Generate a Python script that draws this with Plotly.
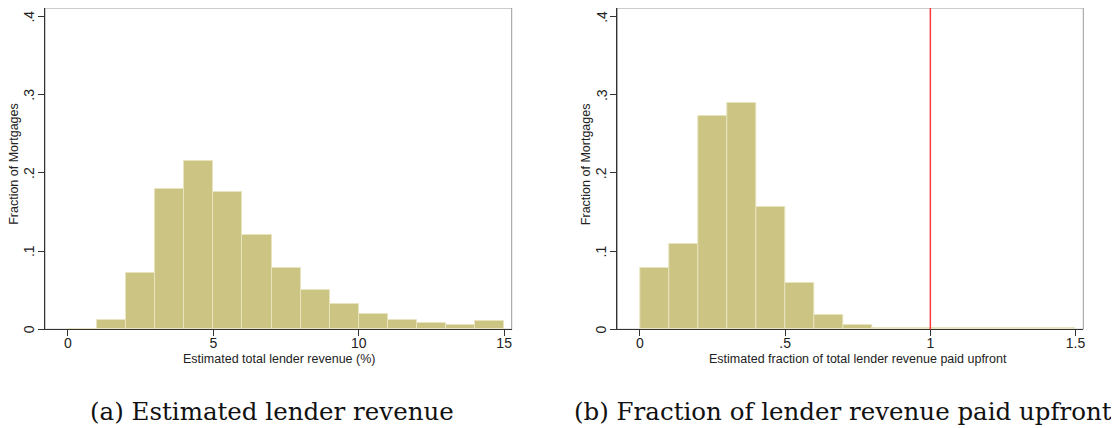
import plotly.graph_objects as go

# Panel (a): estimated total lender revenue (%), bins of width 1
rev_bin_left = [0, 1, 2, 3, 4, 5, 6, 7, 8, 9, 10, 11, 12, 13, 14]
rev_frac = [0.001, 0.012, 0.072, 0.180, 0.215, 0.175, 0.121, 0.078, 0.050,
            0.032, 0.020, 0.012, 0.008, 0.005, 0.010]
rev_width = 1.0

# Panel (b): fraction of lender revenue paid upfront, bins of width 0.1
up_bin_left = [0.0, 0.1, 0.2, 0.3, 0.4, 0.5, 0.6, 0.7, 0.8, 0.9, 1.0, 1.1, 1.2, 1.3, 1.4]
up_frac = [0.078, 0.109, 0.273, 0.290, 0.156, 0.059, 0.018, 0.006, 0.002,
           0.0012, 0.0012, 0.0012, 0.0012, 0.0012, 0.0012]
up_width = 0.1

x1_ticks = [0, 5, 10, 15]
x1_labels = ["0", "5", "10", "15"]
x2_ticks = [0, 0.5, 1, 1.5]
x2_labels = ["0", ".5", "1", "1.5"]
y_ticks = [0, 0.1, 0.2, 0.3, 0.4]
y_labels = ["0", ".1", ".2", ".3", ".4"]
ref_line_x = 1.0

x1_title = "Estimated total lender revenue (%)"
x2_title = "Estimated fraction of total lender revenue paid upfront"
y_title = "Fraction of Mortgages"
cap_a = "(a) Estimated lender revenue"
cap_b = "(b) Fraction of lender revenue paid upfront"

BAR = "#CBC483"
EDGE = "#E8E4BE"

fig = go.Figure()
fig.add_trace(go.Bar(x=rev_bin_left, y=rev_frac, width=rev_width, offset=0,
                     marker=dict(color=BAR, line=dict(color=EDGE, width=1)),
                     xaxis="x", yaxis="y", showlegend=False))
fig.add_trace(go.Bar(x=up_bin_left, y=up_frac, width=up_width, offset=0,
                     marker=dict(color=BAR, line=dict(color=EDGE, width=1)),
                     xaxis="x2", yaxis="y2", showlegend=False))

# page body has an 8px margin, so the figure is drawn 8px in from the window edge
OFF = 8
W, H = 1119 - OFF, 428 - OFF

def px(x):
    return min(1.0, max(0.0, (x - OFF) / W))

def py(y):
    return min(1.0, max(0.0, (H - (y - OFF)) / H))

tickfont = dict(family="Liberation Sans, Arial, sans-serif", size=14, color="#222")
titlefont = dict(family="Liberation Sans, Arial, sans-serif", size=12.5, color="#222")

def xax(domain, ticks, labels, rng, anchor):
    return dict(domain=domain, range=rng, tickvals=ticks, ticktext=labels,
                ticks="outside", ticklen=6, tickcolor="#333", showline=True,
                linecolor="#333", linewidth=1, showgrid=False, zeroline=False,
                tickfont=tickfont, anchor=anchor, automargin=False,
                ticklabelstandoff=-5)

def yax(domain, anchor):
    return dict(domain=domain, range=[0, 0.4109], tickvals=y_ticks,
                ticks="outside", ticklen=6, tickcolor="#333", showline=True,
                linecolor="#333", linewidth=1, showgrid=False, zeroline=False,
                showticklabels=False, anchor=anchor, automargin=False)

ydom = [py(329.3), py(8)]
fig.update_layout(
    width=W, height=H,
    margin=dict(l=0, r=0, t=0, b=0, autoexpand=False),
    paper_bgcolor="white", plot_bgcolor="white",
    bargap=0,
    xaxis=xax([px(45), px(511.7)], x1_ticks, x1_labels, [-0.79, 15.26], "y"),
    yaxis=yax(ydom, "x"),
    xaxis2=xax([px(617.3), px(1083.3)], x2_ticks, x2_labels, [-0.078, 1.5267], "y2"),
    yaxis2=yax(ydom, "x2"),
)

# frame around each plot region
for xr, yr in [("x domain", "y domain"), ("x2 domain", "y2 domain")]:
    fig.add_shape(type="rect", xref=xr, yref=yr, x0=0, x1=1, y0=0, y1=1,
                  line=dict(color="#9A9A9A", width=1), layer="below")

# reference line at 1
fig.add_shape(type="line", xref="x2", yref="y2 domain", x0=ref_line_x, x1=ref_line_x,
              y0=0, y1=1, line=dict(color="#FF3B3B", width=1.5))

# rotated y tick labels (Stata style), placed on each y axis scale
for xr, yr in [("x domain", "y"), ("x2 domain", "y2")]:
    for v, lab in zip(y_ticks, y_labels):
        fig.add_annotation(text=lab, xref=xr, yref=yr, x=0, y=v, xshift=-16,
                           showarrow=False, font=tickfont, textangle=-90,
                           xanchor="center", yanchor="middle")
    fig.add_annotation(text=y_title, xref=xr, yref=yr.replace("y", "y") + " domain",
                       x=0, y=0.515, xshift=-31, showarrow=False, font=titlefont,
                       textangle=-90, xanchor="center", yanchor="middle")

# x axis titles
for txt, xc in [(x1_title, 279), (x2_title, 858)]:
    fig.add_annotation(text=txt, xref="paper", yref="paper", x=px(xc), y=py(359),
                       showarrow=False, font=titlefont, xanchor="center", yanchor="middle")

capfont = dict(family="DejaVu Serif, Liberation Serif, serif", size=24.5, color="#111")
fig.add_annotation(text=cap_a, xref="paper", yref="paper",
                   x=px(272), y=py(411), showarrow=False, font=capfont,
                   xanchor="center", yanchor="middle")
fig.add_annotation(text=cap_b, xref="paper", yref="paper", x=px(843), y=py(411),
                   showarrow=False, font=capfont, xanchor="center", yanchor="middle")

fig.write_html("out.html")
